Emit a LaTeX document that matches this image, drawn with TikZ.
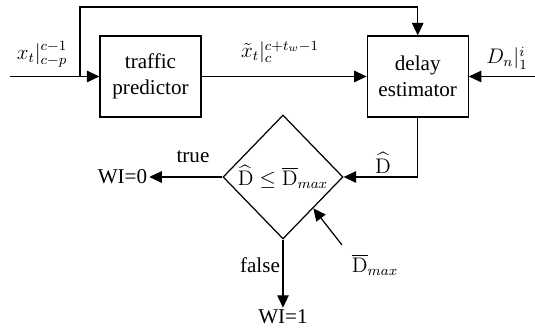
\documentclass[tikz,border=0pt,12pt]{standalone}
\usepackage{amsmath}
\usepackage[no-math]{fontspec}
\setmainfont{Liberation Serif}
\usetikzlibrary{arrows.meta,positioning,shapes.geometric,calc}

\begin{document}
\begin{tikzpicture}[
  node distance=3.3cm,
  blk/.style={draw, line width=0.7pt, align=center, minimum width=2.02cm,
    minimum height=1.62cm, inner sep=1pt},
  decide/.style={draw, line width=0.7pt, diamond, minimum width=2.4cm,
    minimum height=2.48cm, inner sep=0pt},
  lbl/.style={inner sep=1pt},
  arr/.style={-{Triangle[length=2.5mm,width=2.3mm]}, line width=0.7pt}
]
\useasboundingbox (0,0) rectangle (10.7,6.56);
\node[blk] (pred) at (3.01,5.03) {traffic\\predictor};
\node[blk, right=of pred] (est) {delay\\estimator};
\node[decide] (dec) at (5.66,3.02) {$\widehat{\mathrm{D}}\leq\overline{\mathrm{D}}_{max}$};
\node[lbl] (wi0) at (2.45,3.02) {WI=0};
\node[lbl] (wi1) at (5.66,0.22) {WI=1};
\coordinate (xin) at (0.2,5.03);
\coordinate (split) at (1.6,5.03);
\coordinate (dnin) at (10.7,5.03);
\coordinate (dmax) at (6.84,1.66);
% inputs
\draw[arr] (xin) -- (pred.west);
\draw[arr] (split) -- (1.6,6.42) -| (est.north);
\draw[arr] (pred.east) -- (est.west);
\draw[arr] (dnin) -- (est.east);
% decision
\draw[arr] (est.south) |- (dec.east);
\draw[arr] (dec.west) -- (wi0.east);
\draw[arr] (dec.south) -- (wi1.north);
\draw[arr] (dmax) -- (dec.south east);
% labels
\node[lbl] (xlbl) at (0.84,5.47) {$x_t|_{c-p}^{c-1}$};
\node[lbl] (xtlbl) at (5.6,5.52) {$\tilde{x}_t|_{c}^{c+t_w-1}$};
\node[lbl] (dnlbl) at (10.14,5.4) {$D_n|_1^i$};
\node[lbl] (dhlbl) at (7.66,3.3) {$\widehat{\mathrm{D}}$};
\node[lbl] (truelbl) at (3.86,3.42) {true};
\node[lbl] (falselbl) at (5.2,1.26) {false};
\node[lbl] (dmaxlbl) at (7.5,1.26) {$\overline{\mathrm{D}}_{max}$};
\end{tikzpicture}
\end{document}
